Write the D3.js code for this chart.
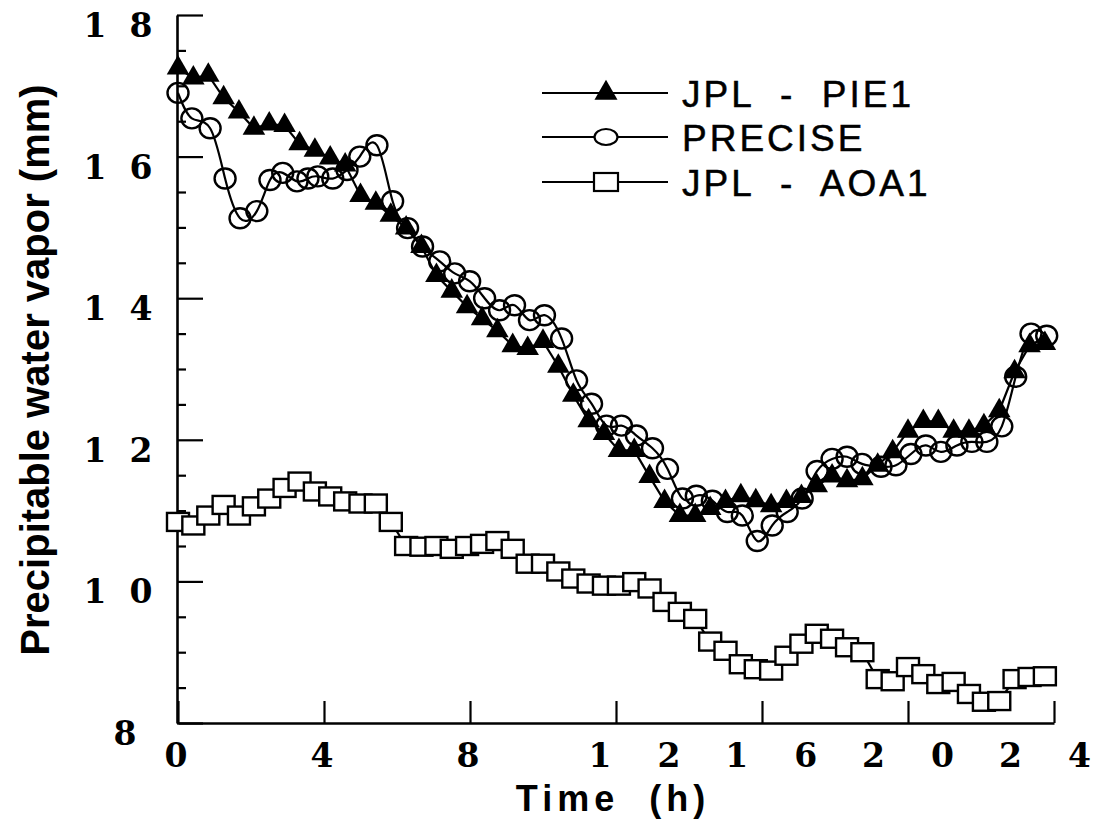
<!DOCTYPE html>
<html>
<head>
<meta charset="utf-8">
<script src="https://cdn.jsdelivr.net/npm/d3@7/dist/d3.min.js"></script>
<style>
	body { margin: 0; background: #fff; }
	svg { display: block; }
	.tickLabel { font-family: "DejaVu Serif", serif; font-weight: bold; font-size: 33px; fill: #000; }
	.axisTitle { font-family: "Liberation Sans", Arial, sans-serif; font-weight: bold; fill: #000; white-space: pre; }
	.legendText { font-family: "Liberation Sans", Arial, sans-serif; font-size: 37px; letter-spacing: 3px; fill: #000; stroke: #000; stroke-width: 0.5px; white-space: pre; }
</style>
</head>
<body>
<div id="chart"></div>
<script>
// hours, JPL solutions (one point every 25 min)
var jplTimes = [0, 0.42, 0.83, 1.25, 1.67, 2.08, 2.5, 2.92, 3.33, 3.75,
	4.17, 4.58, 5, 5.42, 5.83, 6.25, 6.67, 7.08, 7.5, 7.92,
	8.33, 8.75, 9.17, 9.58, 10, 10.42, 10.83, 11.25, 11.67, 12.08,
	12.5, 12.92, 13.33, 13.75, 14.17, 14.58, 15, 15.42, 15.83, 16.25,
	16.67, 17.08, 17.5, 17.92, 18.33, 18.75, 19.17, 19.58, 20, 20.42,
	20.83, 21.25, 21.67, 22.08, 22.5, 22.92, 23.33, 23.75];

var pie1 = [17.25, 17.11, 17.15, 16.83, 16.63, 16.40, 16.46, 16.44, 16.18, 16.09,
	15.98, 15.88, 15.45, 15.34, 15.17, 14.99, 14.73, 14.32, 14.10, 13.88,
	13.71, 13.54, 13.33, 13.29, 13.39, 13.04, 12.63, 12.27, 12.09, 11.85,
	11.85, 11.48, 11.13, 10.93, 10.93, 11.03, 11.13, 11.21, 11.14, 11.07,
	11.13, 11.20, 11.35, 11.49, 11.42, 11.45, 11.64, 11.83, 12.12, 12.26,
	12.26, 12.12, 12.12, 12.20, 12.41, 12.96, 13.33, 13.36];

var aoa1 = [10.84, 10.79, 10.93, 11.08, 10.93, 11.06, 11.17, 11.32, 11.41, 11.27,
	11.20, 11.13, 11.10, 11.10, 10.84, 10.50, 10.49, 10.50, 10.46, 10.50,
	10.53, 10.57, 10.46, 10.25, 10.25, 10.14, 10.04, 9.97, 9.94, 9.94,
	9.99, 9.90, 9.71, 9.57, 9.47, 9.15, 9.02, 8.83, 8.76, 8.74,
	8.95, 9.12, 9.26, 9.19, 9.07, 9.00, 8.62, 8.59, 8.79, 8.69,
	8.55, 8.58, 8.41, 8.30, 8.31, 8.62, 8.65, 8.66];

var preciseTimes = [0, 0.38, 0.88, 1.29, 1.7, 2.16, 2.52, 2.87, 3.26, 3.56,
	3.83, 4.24, 4.63, 4.98, 5.45, 5.88, 6.29, 6.7, 7.17, 7.58,
	7.99, 8.4, 8.81, 9.22, 9.63, 10.04, 10.51, 10.92, 11.33, 11.74,
	12.15, 12.56, 13.0, 13.41, 13.82, 14.2, 14.64, 15.05, 15.46, 15.87,
	16.28, 16.69, 17.1, 17.51, 17.92, 18.33, 18.74, 19.26, 19.67, 20.08,
	20.49, 20.9, 21.34, 21.75, 22.16, 22.57, 22.95, 23.37, 23.8];

var precise = [16.9, 16.54, 16.4, 15.69, 15.13, 15.23, 15.67, 15.77, 15.65, 15.69,
	15.72, 15.69, 15.81, 16.0, 16.16, 15.37, 14.99, 14.73, 14.52, 14.35,
	14.24, 14.0, 13.83, 13.9, 13.69, 13.76, 13.43, 12.84, 12.51, 12.2,
	12.2, 12.06, 11.88, 11.59, 11.17, 11.21, 11.14, 10.98, 10.93, 10.57,
	10.79, 10.98, 11.17, 11.56, 11.73, 11.76, 11.66, 11.62, 11.64, 11.8,
	11.92, 11.83, 11.92, 11.97, 11.97, 12.19, 12.89, 13.5, 13.47];

var xTicks = [0, 4, 8, 12, 16, 20, 24];
var yMajor = [8, 10, 12, 14, 16, 18];
var yMinor = [8.5, 9, 9.5, 10.5, 11, 11.5, 12.5, 13, 13.5, 14.5, 15, 15.5, 16.5, 17, 17.5];
var legendNames = ["JPL  -  PIE1", "PRECISE", "JPL  -  AOA1"];

var width = 1093, height = 819;

var x = d3.scaleLinear().domain([0, 24]).range([178, 1054]);
var y = d3.scaleLinear().domain([8, 18]).range([723, 15]);

var svg = d3.select("#chart").append("svg")
	.attr("width", width)
	.attr("height", height);

function zip(ts, vs){
	return ts.map(function(t, i){ return {t: t, v: vs[i]} })
}

function buildAxes(){
	// y axis, ticks pointing into the plot
	var yMinorAxis = svg.append("g")
		.attr("transform", "translate(177,0)")
		.call(d3.axisRight(y).tickValues(yMinor).tickSize(9).tickSizeOuter(0).tickFormat(""))
	var yMajorAxis = svg.append("g")
		.attr("transform", "translate(177,0)")
		.call(d3.axisRight(y).tickValues(yMajor).tickSize(26).tickSizeOuter(0).tickFormat(""))
	yMajorAxis.select(".domain").remove()

	var xAxis = svg.append("g")
		.attr("transform", "translate(0,723)")
		.call(d3.axisTop(x).tickValues(xTicks).tickSize(22).tickSizeOuter(0).tickFormat(""))

	svg.selectAll(".domain, .tick line")
		.attr("stroke", "#000")
		.attr("stroke-width", 2.2)
	svg.selectAll(".domain").attr("stroke-width", 2.6)

	// y tick labels, digits spread apart
	yMajor.forEach(function(v){
		var s = String(v)
		if(s.length == 1){
			svg.append("text").attr("class", "tickLabel")
				.attr("x", 125).attr("y", y(v) + 22)
				.attr("text-anchor", "middle").text(s)
		}else{
			svg.append("text").attr("class", "tickLabel")
				.attr("x", 95).attr("y", y(v) + 22)
				.attr("text-anchor", "middle").text(s[0])
			svg.append("text").attr("class", "tickLabel")
				.attr("x", 141).attr("y", y(v) + 22)
				.attr("text-anchor", "middle").text(s[1])
		}
	})

	// x tick labels
	xTicks.forEach(function(t){
		var s = String(t)
		if(s.length == 1){
			svg.append("text").attr("class", "tickLabel")
				.attr("x", x(t) - 2).attr("y", 767)
				.attr("text-anchor", "middle").text(s)
		}else{
			var first = x(t) - 16 - (t - 12) * 2.3
			svg.append("text").attr("class", "tickLabel")
				.attr("x", first).attr("y", 767)
				.attr("text-anchor", "middle").text(s[0])
			svg.append("text").attr("class", "tickLabel")
				.attr("x", first + 69).attr("y", 767)
				.attr("text-anchor", "middle").text(s[1])
		}
	})

	svg.append("text")
		.attr("class", "axisTitle")
		.attr("x", 613).attr("y", 811)
		.attr("text-anchor", "middle")
		.style("font-size", "36px")
		.style("letter-spacing", "5px")
		.text("Time  (h)")

	svg.append("text")
		.attr("class", "axisTitle")
		.attr("transform", "translate(49,370) rotate(-90)")
		.attr("text-anchor", "middle")
		.style("font-size", "40px")
		.text("Precipitable water vapor (mm)")
}

function buildSeries(){
	var straight = d3.line()
		.x(function(d){ return x(d.t) })
		.y(function(d){ return y(d.v) })
	var smooth = d3.line()
		.curve(d3.curveNatural)
		.x(function(d){ return x(d.t) })
		.y(function(d){ return y(d.v) })

	var aoaData = zip(jplTimes, aoa1)
	var pieData = zip(jplTimes, pie1)
	var preData = zip(preciseTimes, precise)

	// AOA1 squares
	svg.append("path").datum(aoaData)
		.attr("d", straight)
		.attr("fill", "none").attr("stroke", "#000").attr("stroke-width", 2.2)
	svg.selectAll(".sq").data(aoaData).enter().append("rect")
		.attr("class", "sq")
		.attr("x", function(d){ return x(d.t) - 11 })
		.attr("y", function(d){ return y(d.v) - 9 })
		.attr("width", 22).attr("height", 18)
		.attr("fill", "#fff").attr("stroke", "#000").attr("stroke-width", 2.4)

	// PRECISE circles
	svg.append("path").datum(preData)
		.attr("d", smooth)
		.attr("fill", "none").attr("stroke", "#000").attr("stroke-width", 2.2)
	svg.selectAll(".circ").data(preData).enter().append("ellipse")
		.attr("class", "circ")
		.attr("cx", function(d){ return x(d.t) })
		.attr("cy", function(d){ return y(d.v) })
		.attr("rx", 10.5).attr("ry", 10)
		.attr("fill", "none").attr("stroke", "#000").attr("stroke-width", 2.4)

	// PIE1 triangles
	svg.append("path").datum(pieData)
		.attr("d", straight)
		.attr("fill", "none").attr("stroke", "#000").attr("stroke-width", 2.2)
	svg.selectAll(".tri").data(pieData).enter().append("path")
		.attr("class", "tri")
		.attr("d", d3.symbol(d3.symbolTriangle).size(220))
		.attr("transform", function(d){ return "translate(" + x(d.t) + "," + y(d.v) + ")" })
		.attr("fill", "#000")
}

function buildLegend(){
	var rowY = [93, 137, 182]
	legendNames.forEach(function(name, i){
		var g = svg.append("g").attr("transform", "translate(0," + rowY[i] + ")")
		g.append("line")
			.attr("x1", 542).attr("x2", 668)
			.attr("stroke", "#000").attr("stroke-width", 2.2)
		if(i == 0){
			g.append("path")
				.attr("d", d3.symbol(d3.symbolTriangle).size(230))
				.attr("transform", "translate(606,0)")
				.attr("fill", "#000")
		}else if(i == 1){
			g.append("ellipse")
				.attr("cx", 606).attr("rx", 11.5).attr("ry", 8)
				.attr("fill", "#fff").attr("stroke", "#000").attr("stroke-width", 2.2)
		}else{
			g.append("rect")
				.attr("x", 594).attr("y", -9).attr("width", 24).attr("height", 18)
				.attr("fill", "#fff").attr("stroke", "#000").attr("stroke-width", 2.2)
		}
		g.append("text")
			.attr("class", "legendText")
			.attr("x", 682).attr("y", 14)
			.text(name)
	})
}

buildAxes()
buildSeries()
buildLegend()
</script>
</body>
</html>
